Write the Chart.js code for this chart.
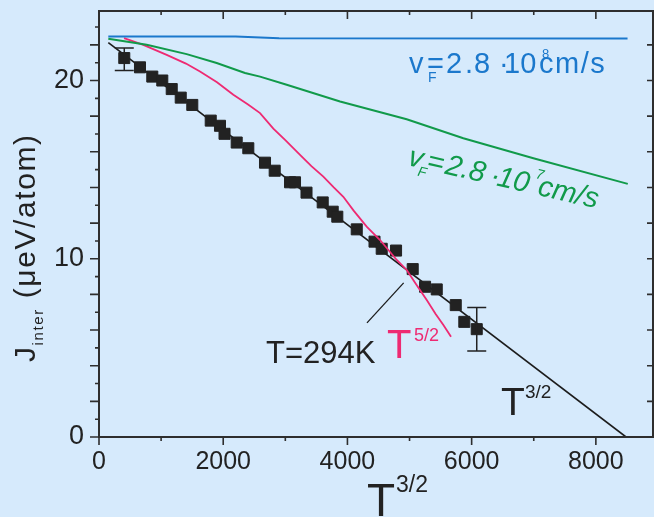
<!DOCTYPE html>
<html>
<head>
<meta charset="utf-8">
<script src="https://cdn.jsdelivr.net/npm/chart.js@4.4.1/dist/chart.umd.min.js"></script>
<style>
  html, body { margin: 0; padding: 0; background: #d6eafc; }
  #wrap { width: 654px; height: 517px; }
</style>
</head>
<body>
<div id="wrap"><canvas id="myChart" width="654" height="517"></canvas></div>
<script>
// DATA (x = T^3/2, y = J_inter in ueV/atom)
const measX = [407, 660, 858, 1019, 1171, 1316, 1502, 1799, 1948, 2021, 2217, 2404, 2673, 2829, 3076, 3156, 3341, 3602, 3763, 3837, 4150, 4436, 4552, 4783, 5051, 5250, 5438, 5744, 5882, 6082];
const measY = [21.26, 20.74, 20.22, 20.0, 19.52, 19.04, 18.63, 17.75, 17.46, 17.01, 16.52, 16.2, 15.39, 14.94, 14.29, 14.29, 13.71, 13.16, 12.64, 12.36, 11.65, 10.96, 10.56, 10.46, 9.42, 8.43, 8.28, 7.4, 6.46, 6.05];

const errX = [407, 6082];
const errLow = [20.56, 4.83];
const errHigh = [21.82, 7.27];

const fitX = [150, 8486];
const fitY = [22.13, 0];

const blueX = [150, 2200, 2900, 8510];
const blueY = [22.47, 22.47, 22.37, 22.36];

const greenX = [150, 768, 1412, 1895, 2351, 2593, 3022, 3881, 4954, 5866, 6994, 8514];
const greenY = [22.34, 22.01, 21.48, 20.98, 20.42, 20.22, 19.76, 18.82, 17.83, 16.76, 15.64, 14.2];

const pinkX = [403, 713, 1090, 1400, 1626, 1900, 2163, 2400, 2593, 2807, 3000, 3237, 3420, 3612, 3780, 3934, 4100, 4310, 4525, 4794, 4955, 5100, 5277, 5420, 5545, 5668];
const pinkY = [22.38, 22.0, 21.44, 20.95, 20.51, 19.9, 19.2, 18.65, 18.17, 17.3, 16.65, 15.83, 15.2, 14.61, 14.0, 13.48, 12.7, 11.8, 11.05, 9.93, 9.37, 8.6, 7.68, 6.9, 6.28, 5.62];

const pointerX = [4315, 4905];
const pointerY = [6.4, 8.65];

const xTickLabels = [0, 2000, 4000, 6000, 8000];
const yTickLabels = [0, 10, 20];

const FONT = "'Liberation Sans', Arial, sans-serif";
const BG = "#d6eafc";
const INK = "#222222";

function pts(xs, ys) {
  return xs.map((x, i) => ({ x: x, y: ys[i] }));
}

function drawParts(ctx, x, y, parts) {
  for (const p of parts) {
    ctx.font = p.font;
    ctx.fillStyle = p.color;
    ctx.letterSpacing = p.ls || "0px";
    ctx.fillText(p.t, x + p.x, y + (p.dy || 0));
  }
  ctx.letterSpacing = "0px";
}

const decor = {
  id: "decor",
  beforeDraw(chart) {
    const ctx = chart.ctx;
    ctx.save();
    ctx.fillStyle = BG;
    ctx.fillRect(0, 0, chart.width, chart.height);
    ctx.restore();
  },
  afterDraw(chart) {
    const ctx = chart.ctx;
    const xs = chart.scales.x;
    const ys = chart.scales.y;
    const a = chart.chartArea;
    ctx.save();

    // error bars
    ctx.strokeStyle = INK;
    ctx.lineWidth = 1.5;
    errX.forEach((v, i) => {
      const px = xs.getPixelForValue(v);
      const p1 = ys.getPixelForValue(errLow[i]);
      const p2 = ys.getPixelForValue(errHigh[i]);
      ctx.beginPath();
      ctx.moveTo(px, p1); ctx.lineTo(px, p2);
      ctx.moveTo(px - 9.5, p1); ctx.lineTo(px + 9.5, p1);
      ctx.moveTo(px - 9.5, p2); ctx.lineTo(px + 9.5, p2);
      ctx.stroke();
    });

    // frame
    ctx.strokeStyle = "#2e2e2e";
    ctx.lineWidth = 2;
    ctx.strokeRect(a.left, a.top, a.right - a.left, a.bottom - a.top);

    // tick marks
    ctx.lineWidth = 1.6;
    ctx.beginPath();
    for (let v = 0; v <= 8000; v += 1000) {
      const px = xs.getPixelForValue(v);
      const major = v % 2000 === 0;
      ctx.moveTo(px, a.bottom); ctx.lineTo(px, a.bottom + (major ? 8 : 4));
      ctx.moveTo(px, a.top); ctx.lineTo(px, a.top + (major ? 8 : 4));
    }
    for (let v = 0; v <= 23; v += 1) {
      const py = ys.getPixelForValue(v);
      const major = v % 2 === 0;
      ctx.moveTo(a.left, py); ctx.lineTo(a.left - (major ? 9 : 4), py);
      if (major) { ctx.moveTo(a.right, py); ctx.lineTo(a.right - 6, py); }
    }
    ctx.stroke();

    // annotations
    ctx.textBaseline = "alphabetic";
    ctx.textAlign = "left";
    drawParts(ctx, 266, 363, [{ t: "T=294K", x: 0, font: "31px " + FONT, color: INK }]);
    drawParts(ctx, 387, 358, [
      { t: "T", x: 0, font: "40px " + FONT, color: "#ee2a72" },
      { t: "5/2", x: 27, dy: -17, font: "18px " + FONT, color: "#ee2a72" }
    ]);
    drawParts(ctx, 501, 415, [
      { t: "T", x: 0, font: "39px " + FONT, color: INK },
      { t: "3/2", x: 24, dy: -17, font: "19px " + FONT, color: INK }
    ]);
    // x title
    drawParts(ctx, 367, 516, [
      { t: "T", x: 0, font: "46px " + FONT, color: INK },
      { t: "3/2", x: 29, dy: -24, font: "23px " + FONT, color: INK }
    ]);

    // blue label
    const blue = "#1b78cc";
    drawParts(ctx, 0, 73, [
      { t: "v", x: 409, font: "29px " + FONT, color: blue },
      { t: "=", x: 427, font: "29px " + FONT, color: blue },
      { t: "F", x: 428, dy: 9, font: "14px " + FONT, color: blue },
      { t: "2", x: 446, font: "29px " + FONT, color: blue },
      { t: ".", x: 465, font: "29px " + FONT, color: blue },
      { t: "8", x: 474, font: "29px " + FONT, color: blue },
      { t: "\u00b7", x: 499, font: "29px " + FONT, color: blue },
      { t: "10", x: 504, font: "29px " + FONT, color: blue },
      { t: "cm/s", x: 539, font: "29px " + FONT, color: blue, ls: "1.5px" },
      { t: "8", x: 542, dy: -15, font: "13px " + FONT, color: blue }
    ]);

    // green label (rotated)
    const green = "#119a4a";
    ctx.save();
    ctx.translate(407, 165);
    ctx.rotate(0.225);
    drawParts(ctx, 0, 0, [
      { t: "v", x: 0, font: "italic 29px " + FONT, color: green },
      { t: "F", x: 12, dy: 8, font: "italic 14px " + FONT, color: green },
      { t: "=", x: 19, font: "italic 29px " + FONT, color: green },
      { t: "2.8", x: 38, font: "italic 29px " + FONT, color: green },
      { t: "\u00b7", x: 84, font: "italic 29px " + FONT, color: green },
      { t: "10", x: 91, font: "italic 29px " + FONT, color: green },
      { t: "cm/s", x: 133, font: "italic 29px " + FONT, color: green },
      { t: "7", x: 128, dy: -16, font: "italic 14px " + FONT, color: green }
    ]);
    ctx.restore();

    // y title (rotated)
    ctx.save();
    ctx.translate(35, 362);
    ctx.rotate(-Math.PI / 2);
    ctx.letterSpacing = "1.6px";
    ctx.font = "30px " + FONT;
    ctx.fillStyle = INK;
    ctx.fillText("J", 0, 0);
    let w = ctx.measureText("J").width;
    ctx.font = "15px " + FONT;
    ctx.fillText("inter", w, 8);
    w += ctx.measureText("inter").width;
    ctx.font = "30px " + FONT;
    ctx.fillText(" (\u03bceV/atom)", w, 0);
    ctx.restore();

    ctx.restore();
  }
};

const ctx = document.getElementById("myChart");

new Chart(ctx, {
  type: "scatter",
  data: {
    datasets: [
      {
        label: "fit",
        data: pts(fitX, fitY),
        showLine: true,
        borderColor: "#1c1c1c",
        borderWidth: 1.6,
        pointRadius: 0,
        order: 3
      },
      {
        label: "vF 2.8e8",
        data: pts(blueX, blueY),
        showLine: true,
        borderColor: "#1b78cc",
        borderWidth: 2,
        pointRadius: 0
      },
      {
        label: "vF 2.8e7",
        data: pts(greenX, greenY),
        showLine: true,
        borderColor: "#119a4a",
        borderWidth: 2,
        pointRadius: 0
      },
      {
        label: "T5/2",
        data: pts(pinkX, pinkY),
        showLine: true,
        borderColor: "#ee2a72",
        borderWidth: 1.8,
        pointRadius: 0,
        order: 0
      },
      {
        label: "pointer",
        data: pts(pointerX, pointerY),
        showLine: true,
        borderColor: "#1c1c1c",
        borderWidth: 1.3,
        pointRadius: 0
      },
      {
        label: "measured",
        data: pts(measX, measY),
        pointStyle: "rect",
        pointRadius: 7.8,
        backgroundColor: "#222222",
        borderColor: "#222222",
        borderWidth: 1,
        order: 1
      }
    ]
  },
  options: {
    responsive: false,
    animation: false,
    devicePixelRatio: 1,
    layout: { autoPadding: false, padding: { top: 11, right: 1, left: 0, bottom: 0 } },
    plugins: {
      legend: { display: false },
      tooltip: { enabled: false }
    },
    scales: {
      x: {
        type: "linear",
        min: 0,
        max: 8920,
        afterFit: (s) => { s.height = 80; s.paddingLeft = 0; s.paddingRight = 0; },
        afterBuildTicks: (s) => { s.ticks = xTickLabels.map((v) => ({ value: v })); },
        grid: { display: false, drawTicks: false },
        border: { display: false },
        ticks: {
          padding: 10,
          color: INK,
          font: { family: FONT, size: 25 },
          maxRotation: 0,
          autoSkip: false,
          callback: (v) => String(v)
        }
      },
      y: {
        type: "linear",
        min: 0,
        max: 23.9,
        afterFit: (s) => { s.width = 99; s.paddingTop = 0; s.paddingBottom = 0; },
        afterBuildTicks: (s) => { s.ticks = yTickLabels.map((v) => ({ value: v })); },
        grid: { display: false, drawTicks: false },
        border: { display: false },
        ticks: {
          padding: 15,
          color: INK,
          font: { family: FONT, size: 27 },
          autoSkip: false,
          callback: (v) => String(v)
        }
      }
    }
  },
  plugins: [decor]
});
</script>
</body>
</html>
